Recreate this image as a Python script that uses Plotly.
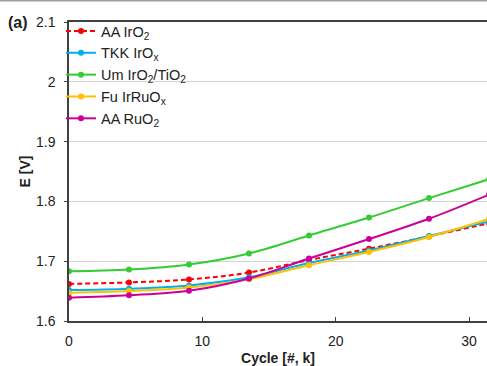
import plotly.graph_objects as go

# Cycle number in thousands of cycles
cycles = [0, 4.5, 9, 13.5, 18, 22.5, 27, 31.5]

# Cell potential E [V] for each catalyst
aa_iro2 = [1.662, 1.6645, 1.6695, 1.681, 1.702, 1.721, 1.7415, 1.7637]
tkk_irox = [1.6517, 1.654, 1.6595, 1.673, 1.697, 1.718, 1.742, 1.7663]
um_iro2_tio2 = [1.683, 1.686, 1.6945, 1.713, 1.743, 1.773, 1.8055, 1.8371]
fu_irruox = [1.647, 1.650, 1.656, 1.670, 1.6933, 1.7155, 1.7405, 1.7705]
aa_ruo2 = [1.639, 1.643, 1.6505, 1.671, 1.7045, 1.737, 1.771, 1.8113]

series = [
    ("AA IrO<sub>2</sub>", aa_iro2, "#FF0000", "5px,3px"),
    ("TKK IrO<sub>x</sub>", tkk_irox, "#00B0F0", "solid"),
    ("Um IrO<sub>2</sub>/TiO<sub>2</sub>", um_iro2_tio2, "#33CC33", "solid"),
    ("Fu IrRuO<sub>x</sub>", fu_irruox, "#FFC000", "solid"),
    ("AA RuO<sub>2</sub>", aa_ruo2, "#CC0099", "solid"),
]

FONT = "Arial, 'Liberation Sans', sans-serif"

fig = go.Figure()
for name, vals, color, dash in series:
    fig.add_trace(go.Scatter(
        x=cycles, y=vals, name=name, mode="lines+markers",
        line=dict(color=color, width=2, dash=dash, shape="spline"),
        marker=dict(color=color, size=6, symbol="circle"),
    ))

W, H = 487, 366
ML, MR, MT, MB = 69, 0, 22, 45
pw, ph = W - ML - MR, H - MT - MB

fig.update_layout(
    width=W, height=H,
    margin=dict(l=ML, r=MR, t=MT, b=MB),
    paper_bgcolor="white", plot_bgcolor="white",
    font=dict(family=FONT, size=14, color="#222222"),
    showlegend=True,
    legend=dict(
        x=-8 / pw, y=1 + 7 / ph, xanchor="left", yanchor="top",
        bgcolor="rgba(0,0,0,0)", borderwidth=0,
        font=dict(family=FONT, size=14.5, color="#222222"),
        itemwidth=30, tracegroupgap=0,
    ),
    xaxis=dict(
        range=[0, 31.35], tickvals=[0, 10, 20, 30],
        showgrid=False, zeroline=False,
        showline=True, linecolor="#404040", linewidth=1.5, mirror=True,
        ticks="inside", ticklen=4, tickcolor="#404040",
        ticklabelstandoff=6,
        title=dict(text="<b>Cycle [#, k]</b>", font=dict(family=FONT, size=14), standoff=8),
    ),
    yaxis=dict(
        range=[1.6, 2.1], tickvals=[1.6, 1.7, 1.8, 1.9, 2.0, 2.1],
        ticktext=["1.6", "1.7", "1.8", "1.9", "2", "2.1"],
        showgrid=True, gridcolor="#D3D3D3", gridwidth=1, zeroline=False,
        showline=True, linecolor="#404040", linewidth=1.5,
        ticks="outside", ticklen=3, tickcolor="#404040",
        ticklabelstandoff=6,
        title=dict(text="<b>E [V]</b>", font=dict(family=FONT, size=14), standoff=2),
    ),
    annotations=[
        dict(text="<b>(a)</b>", xref="paper", yref="paper",
             x=-63 / pw, y=1.0, xanchor="left", yanchor="middle",
             showarrow=False, font=dict(family=FONT, size=16, color="#222222")),
    ],
    shapes=[
        dict(type="line", xref="paper", yref="paper",
             x0=-ML / pw, x1=1.0, y0=1 + (MT - 0.75) / ph, y1=1 + (MT - 0.75) / ph,
             line=dict(color="#A0A0A0", width=1.5)),
    ],
)

fig.write_html("out.html")
